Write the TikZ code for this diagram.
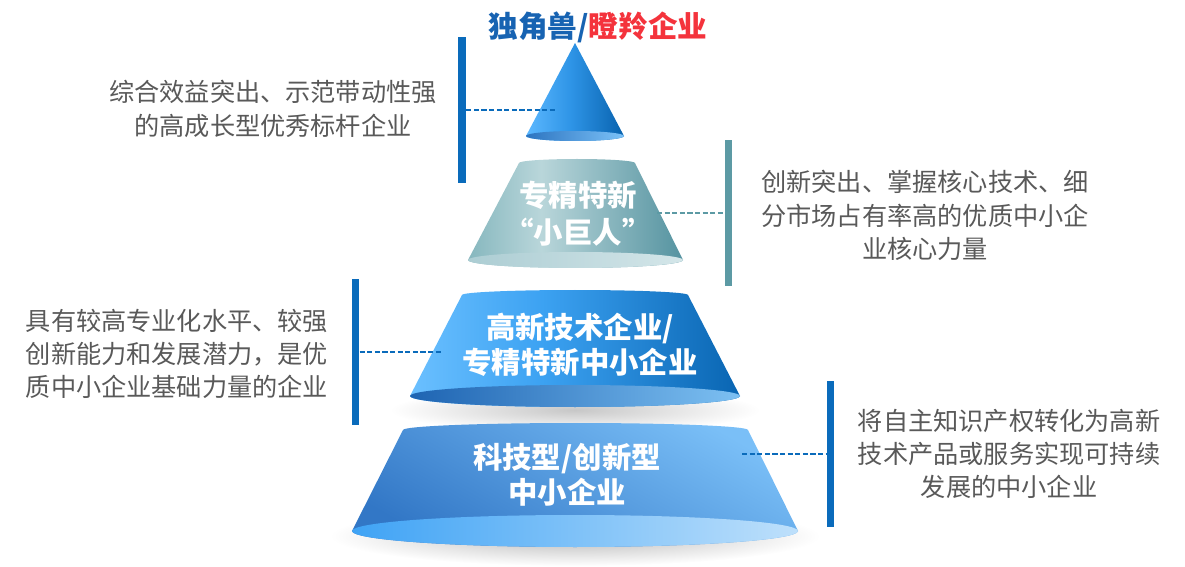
\documentclass[tikz,border=0pt]{standalone}
\usepackage{fontspec}
\setmainfont{Noto Sans CJK SC}
\usetikzlibrary{positioning}

\definecolor{barblue}{HTML}{0A6BBB}
\definecolor{barteal}{HTML}{5C9AA4}
\definecolor{greytext}{HTML}{595959}
\definecolor{titleblue}{HTML}{1763B2}
\definecolor{titlered}{HTML}{F4333C}
\definecolor{coneA}{HTML}{5CB8FF}
\definecolor{coneB}{HTML}{2E94E6}
\definecolor{coneC}{HTML}{0862AE}
\definecolor{coneL}{HTML}{2C74C0}
\definecolor{coneR}{HTML}{7CC2F8}
\definecolor{tealA}{HTML}{86B7BE}
\definecolor{tealB}{HTML}{B9D6DA}
\definecolor{tealC}{HTML}{5593A0}
\definecolor{tealL}{HTML}{ACCDD3}
\definecolor{tealR}{HTML}{D4E6E9}
\definecolor{blueA}{HTML}{6BC0FF}
\definecolor{blueB}{HTML}{3CA2F2}
\definecolor{blueC}{HTML}{0965B2}
\definecolor{blueL}{HTML}{1E64B2}
\definecolor{blueM}{HTML}{5698D8}
\definecolor{blueR}{HTML}{7DC0F2}
\definecolor{baseT}{HTML}{7ABFF7}
\definecolor{baseB}{HTML}{3277C6}
\definecolor{baseL}{HTML}{3FA3F5}
\definecolor{baseR}{HTML}{BEE0FB}

\pgfdeclarehorizontalshading{topcone}{100bp}{color(0bp)=(coneA); color(25bp)=(coneA); color(48bp)=(coneB); color(75bp)=(coneC); color(100bp)=(coneC)}
\pgfdeclarehorizontalshading{tealbody}{100bp}{color(0bp)=(tealA); color(25bp)=(tealA); color(42bp)=(tealB); color(75bp)=(tealC); color(100bp)=(tealC)}
\pgfdeclarehorizontalshading{bluebody}{100bp}{color(0bp)=(blueA); color(25bp)=(blueA); color(45bp)=(blueB); color(75bp)=(blueC); color(100bp)=(blueC)}

\tikzstyle{sidebar} = [rectangle, inner sep=0pt, minimum width=3.75pt, minimum height=73pt]
\tikzstyle{dashlink} = [line width=0.7pt, dash pattern=on 2.6pt off 1.2pt]
\tikzstyle{desc} = [text=greytext, align=center, font=\fontsize{12.6}{16.6}\selectfont]
\tikzstyle{tiertext} = [text=white, align=center, font=\bfseries\fontsize{14.7}{17.5}\selectfont]

\begin{document}
\begin{tikzpicture}[x=0.5pt, y=-0.5pt]
\useasboundingbox (0,0) rectangle (1185,567);

% soft shadows
\shade[inner color=black!28, outer color=white] (575,536) ellipse[x radius=245, y radius=30];
\shade[inner color=black!22, outer color=white] (575,410) ellipse[x radius=185, y radius=22];

% top cone
\shade[shading=topcone] (575,43) -- (526,136) arc[start angle=180, end angle=0, x radius=49, y radius=5] -- cycle;
\shade[left color=coneL, right color=coneR] (575,136) ellipse[x radius=49, y radius=5];

% tier 2
\shade[shading=tealbody] (519,163) -- (468,260) arc[start angle=180, end angle=0, x radius=107.5, y radius=8] -- (635,163) arc[start angle=360, end angle=180, x radius=58, y radius=4] -- cycle;
\shade[left color=tealL, right color=tealR] (575.5,260) ellipse[x radius=107.5, y radius=8];

% tier 3
\shade[shading=bluebody] (462,295) -- (410,396) arc[start angle=180, end angle=0, x radius=165, y radius=11] -- (688,295) arc[start angle=360, end angle=180, x radius=113, y radius=5] -- cycle;
\shade[left color=blueL, middle color=blueM, right color=blueR] (575,396) ellipse[x radius=165, y radius=11];

% tier 4
\shade[top color=baseT, bottom color=baseB, shading angle=-30] (403,430) -- (352,531) arc[start angle=180, end angle=0, x radius=223, y radius=16] -- (748,430) arc[start angle=360, end angle=180, x radius=172.5, y radius=7] -- cycle;
\shade[left color=baseL, right color=baseR] (575,531) ellipse[x radius=223, y radius=16];

% labels
\node (title) at (598,27) {\bfseries\fontsize{14.8}{16}\selectfont\textcolor{titleblue}{独角兽/}\textcolor{titlered}{瞪羚企业}};
\node (tierB) [tiertext, font=\bfseries\fontsize{14.7}{18.5}\selectfont] at (578,213.5) {专精特新\\“小巨人”};
\node (tierC) [tiertext] at (580,344.5) {高新技术企业/\\专精特新中小企业};
\node (tierD) [tiertext] at (567,474.5) {科技型/创新型\\中小企业};

\node (descA) [desc] at (273,109) {综合效益突出、示范带动性强\\的高成长型优秀标杆企业};
\node (descB) [desc] at (925,215.5) {创新突出、掌握核心技术、细\\分市场占有率高的优质中小企\\业核心力量};
\node (descC) [desc] at (177,354) {具有较高专业化水平、较强\\创新能力和发展潜力，是优\\质中小企业基础力量的企业};
\node (descD) [desc] at (1009,454) {将自主知识产权转化为高新\\技术产品或服务实现可持续\\发展的中小企业};

% bars
\node (barA) [sidebar, fill=barblue] at (462,110) {};
\node (barB) [sidebar, fill=barteal] at (728.5,213) {};
\node (barC) [sidebar, fill=barblue] at (355.5,352) {};
\node (barD) [sidebar, fill=barblue] at (830.5,454) {};

\coordinate (tipA) at (555,110);
\coordinate (tipB) at (657,213);
\coordinate (tipC) at (443,352);
\coordinate (tipD) at (742,454);

\draw [dashlink, barblue] (barA.east) -- (tipA);
\draw [dashlink, barteal] (tipB) -- (barB.west);
\draw [dashlink, barblue] (barC.east) -- (tipC);
\draw [dashlink, barblue] (tipD) -- (barD.west);

\end{tikzpicture}
\end{document}
